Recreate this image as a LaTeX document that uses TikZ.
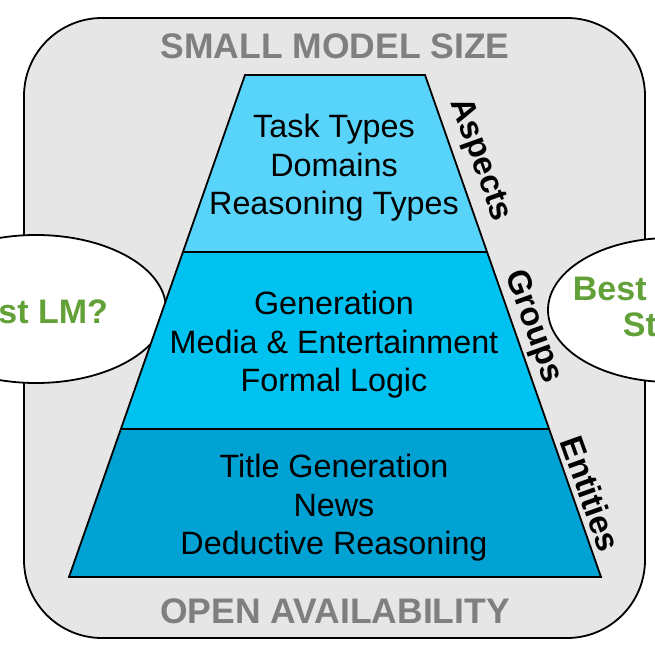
\documentclass[tikz,border=0pt]{standalone}
\usepackage{fontspec}
\setmainfont{Liberation Sans}
\usetikzlibrary{calc}
\definecolor{boxgray}{RGB}{230,230,230}
\definecolor{titlegray}{RGB}{127,127,127}
\definecolor{lmgreen}{RGB}{98,160,56}
\definecolor{bandA}{RGB}{88,212,250}
\definecolor{bandB}{RGB}{0,194,240}
\definecolor{bandC}{RGB}{0,162,212}
\tikzset{
  outline/.style={draw=black, line width=1.8pt},
  title/.style={text=titlegray, font=\fontsize{35.5}{40}\selectfont\bfseries},
  question/.style={text=lmgreen, font=\fontsize{34}{36}\selectfont\bfseries, align=center},
  bandtext/.style={text=black, font=\fontsize{32.3}{38.5}\selectfont, align=center},
  sidelabel/.style={text=black, font=\fontsize{33}{36}\selectfont\bfseries, rotate=-70.3},
}
\begin{document}
\begin{tikzpicture}[x=1pt,y=-1pt]
\useasboundingbox (0,0) rectangle (655,655);
\clip (0,0) rectangle (655,655);
% frame
\draw[outline, fill=boxgray, rounded corners=78pt] (24,18) rectangle (645,638);
% ellipses
\draw[outline, fill=white] (36,309) ellipse [x radius=130pt, y radius=74pt];
\draw[outline, fill=white] (670,310) ellipse [x radius=122pt, y radius=72pt];
\node[question] (leftq) at (31.5,312) {Best LM?};
\node[question] (rightq) at (674,310) {Best Prompt\\Style?};
% pyramid bands
\coordinate (tl) at (245,75);
\coordinate (tr) at (425,75);
\coordinate (bl) at (69,577);
\coordinate (br) at (601,577);
\coordinate (l1) at ($(tl)!0.3526!(bl)$);
\coordinate (r1) at ($(tr)!0.3526!(br)$);
\coordinate (l2) at ($(tl)!0.7052!(bl)$);
\coordinate (r2) at ($(tr)!0.7052!(br)$);
\fill[bandC] (l2) -- (r2) -- (br) -- (bl) -- cycle;
\fill[bandB] (l1) -- (r1) -- (r2) -- (l2) -- cycle;
\fill[bandA] (tl) -- (tr) -- (r1) -- (l1) -- cycle;
\draw[outline, line join=miter] (tl) -- (tr) -- (br) -- (bl) -- cycle;
\draw[outline] (l1) -- (r1);
\draw[outline] (l2) -- (r2);
% band texts
\node[bandtext] (aspectsT) at (334,168) {Task Types\\Domains\\Reasoning Types};
\node[bandtext] (groupsT) at (334,345) {Generation\\Media \& Entertainment\\Formal Logic};
\node[bandtext] (entitiesT) at (334,508) {Title Generation\\News\\Deductive Reasoning};
% side labels
\node[sidelabel] (aspectsL) at (480,160) {Aspects};
\node[sidelabel] (groupsL) at (533,327) {Groups};
\node[sidelabel] (entitiesL) at (591,494) {Entities};
% titles
\node[title] (topT) at (335,46) {SMALL MODEL SIZE};
\node[title] (botT) at (335,611) {OPEN AVAILABILITY};
\end{tikzpicture}
\end{document}
